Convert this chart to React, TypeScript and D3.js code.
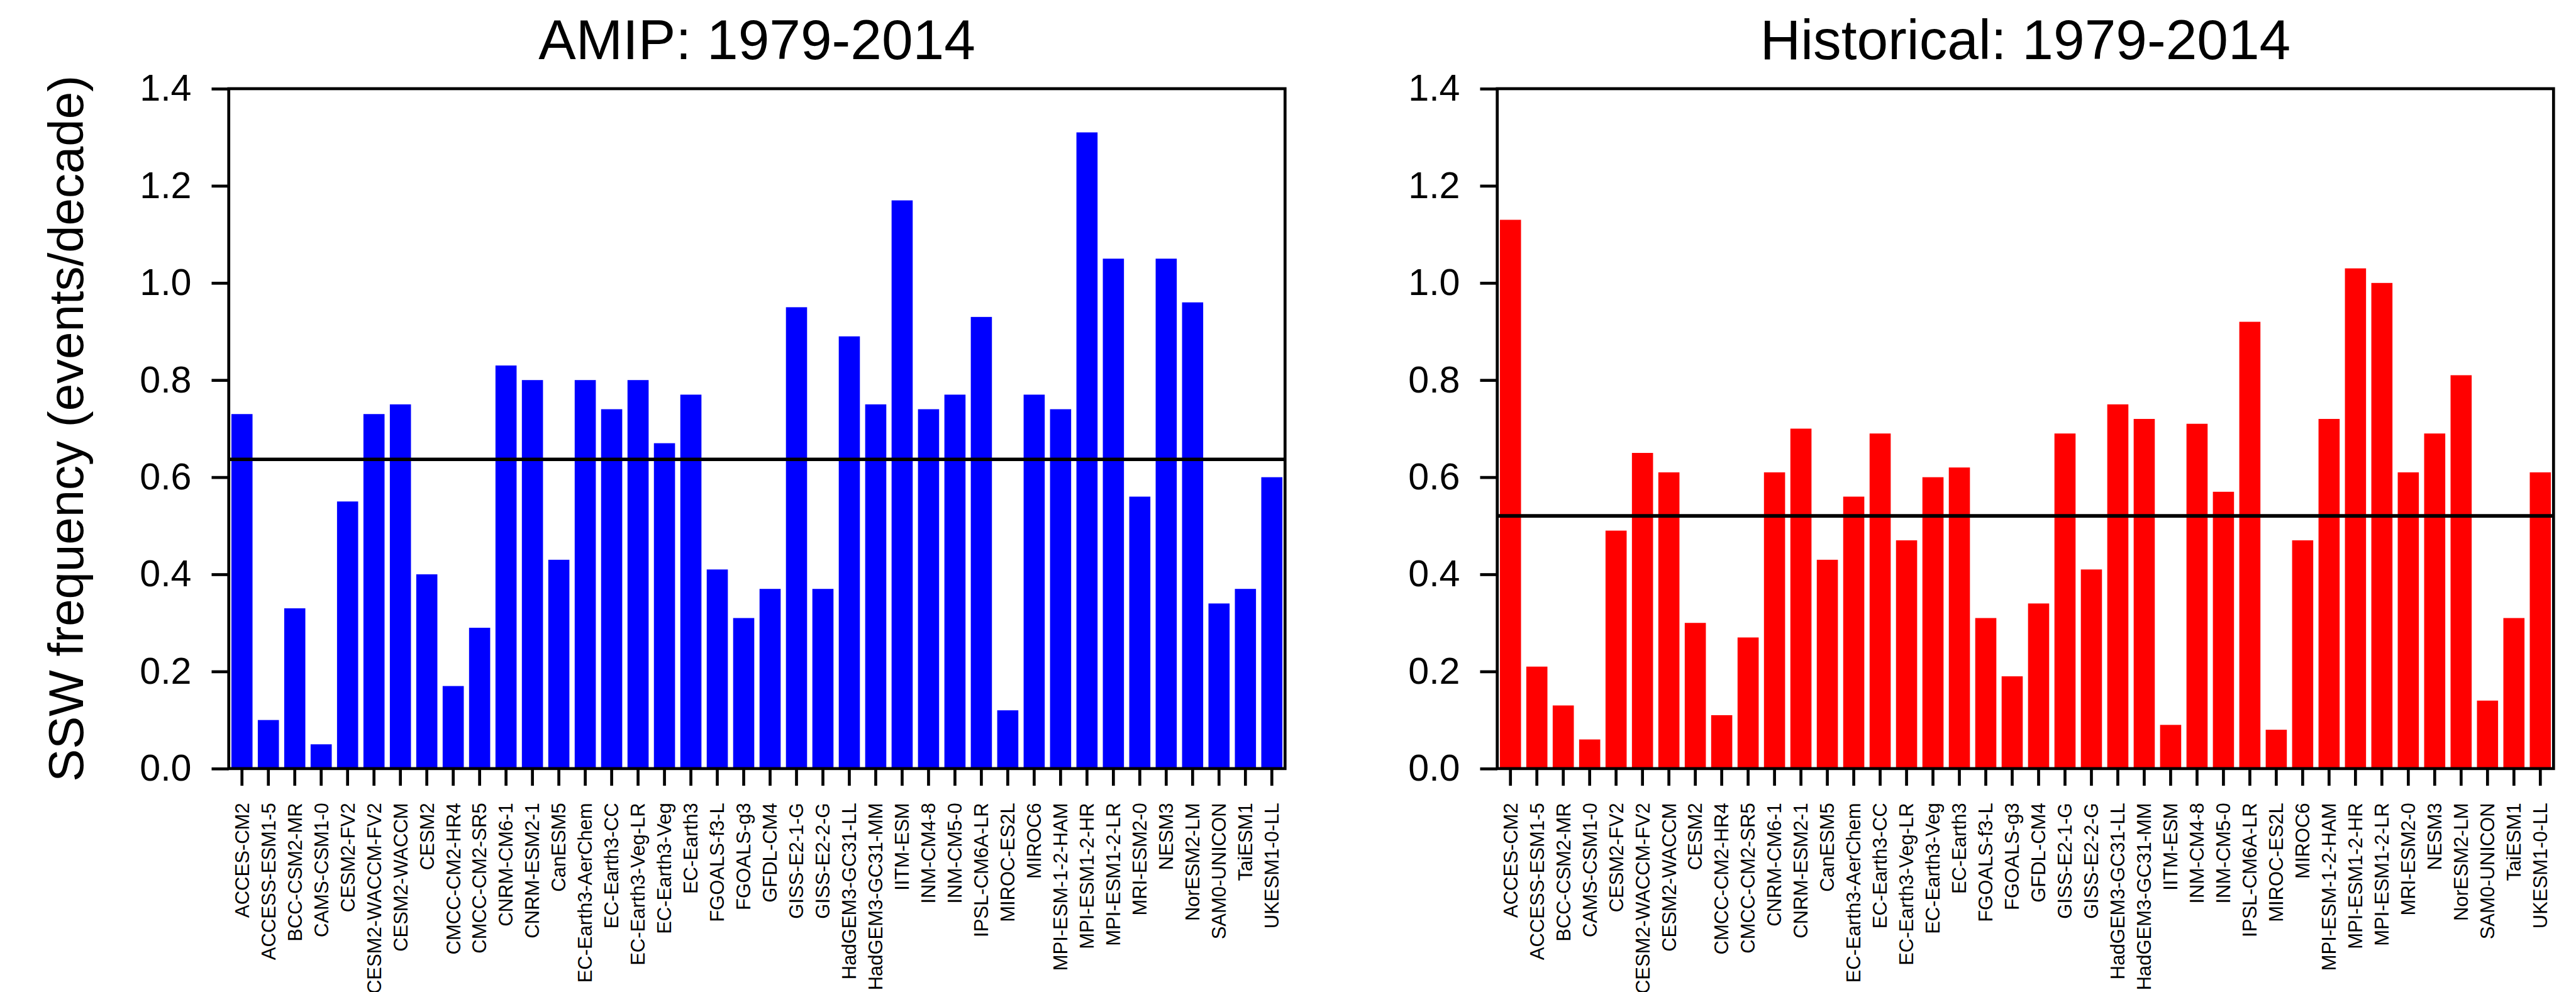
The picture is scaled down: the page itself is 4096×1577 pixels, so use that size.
import React, { useEffect, useRef } from "react";
import * as d3 from "d3";

// models on the x axis (same order in both panels)
const models = [
  "ACCES-CM2", "ACCESS-ESM1-5", "BCC-CSM2-MR", "CAMS-CSM1-0", "CESM2-FV2",
  "CESM2-WACCM-FV2", "CESM2-WACCM", "CESM2", "CMCC-CM2-HR4", "CMCC-CM2-SR5",
  "CNRM-CM6-1", "CNRM-ESM2-1", "CanESM5", "EC-Earth3-AerChem", "EC-Earth3-CC",
  "EC-Earth3-Veg-LR", "EC-Earth3-Veg", "EC-Earth3", "FGOALS-f3-L", "FGOALS-g3",
  "GFDL-CM4", "GISS-E2-1-G", "GISS-E2-2-G", "HadGEM3-GC31-LL", "HadGEM3-GC31-MM",
  "IITM-ESM", "INM-CM4-8", "INM-CM5-0", "IPSL-CM6A-LR", "MIROC-ES2L",
  "MIROC6", "MPI-ESM-1-2-HAM", "MPI-ESM1-2-HR", "MPI-ESM1-2-LR", "MRI-ESM2-0",
  "NESM3", "NorESM2-LM", "SAM0-UNICON", "TaiESM1", "UKESM1-0-LL",
];

const amipValues = [
  0.73, 0.10, 0.33, 0.05, 0.55, 0.73, 0.75, 0.40, 0.17, 0.29,
  0.83, 0.80, 0.43, 0.80, 0.74, 0.80, 0.67, 0.77, 0.41, 0.31,
  0.37, 0.95, 0.37, 0.89, 0.75, 1.17, 0.74, 0.77, 0.93, 0.12,
  0.77, 0.74, 1.31, 1.05, 0.56, 1.05, 0.96, 0.34, 0.37, 0.60,
];

const histValues = [
  1.13, 0.21, 0.13, 0.06, 0.49, 0.65, 0.61, 0.30, 0.11, 0.27,
  0.61, 0.70, 0.43, 0.56, 0.69, 0.47, 0.60, 0.62, 0.31, 0.19,
  0.34, 0.69, 0.41, 0.75, 0.72, 0.09, 0.71, 0.57, 0.92, 0.08,
  0.47, 0.72, 1.03, 1.00, 0.61, 0.69, 0.81, 0.14, 0.31, 0.61,
];

const yTicks = [0, 0.2, 0.4, 0.6, 0.8, 1.0, 1.2, 1.4];

const titles = ["AMIP: 1979-2014", "Historical: 1979-2014"];
const yLabel = "SSW frequency (events/decade)";

const FONT = "'Liberation Sans', Arial, Helvetica, sans-serif";
const S = 4096 / 4358; // reference -> window

export default function App() {
  const ref = useRef<SVGSVGElement>(null);

  useEffect(() => {
    document.body.style.margin = "0";
    const svg = d3.select(ref.current);
    svg.selectAll("*").remove();
    const root = svg.append("g").attr("transform", `scale(${S})`);

    const top = 150;
    const bottom = 1300;
    const pw = 1787;
    const y = d3.scaleLinear().domain([0, 1.4]).range([bottom, top]);

    const panels = [
      { title: titles[0], values: amipValues, color: "#0000ff", left: 387 },
      { title: titles[1], values: histValues, color: "#ff0000", left: 2533 },
    ];

    panels.forEach((p) => {
      const x = d3
        .scaleBand()
        .domain(models)
        .range([p.left, p.left + pw])
        .paddingInner(0.2)
        .paddingOuter(0.1);
      const g = root.append("g");

      g.selectAll("rect.bar")
        .data(p.values)
        .enter()
        .append("rect")
        .attr("class", "bar")
        .attr("x", (d, i) => x(models[i]) as number)
        .attr("y", (d) => y(d))
        .attr("width", x.bandwidth())
        .attr("height", (d) => bottom - y(d))
        .attr("fill", p.color);

      // multi-model mean
      const m = d3.mean(p.values) as number;
      g.append("line")
        .attr("x1", p.left)
        .attr("x2", p.left + pw)
        .attr("y1", y(m))
        .attr("y2", y(m))
        .attr("stroke", "#000")
        .attr("stroke-width", 6);

      // frame
      g.append("rect")
        .attr("x", p.left)
        .attr("y", top)
        .attr("width", pw)
        .attr("height", bottom - top)
        .attr("fill", "none")
        .attr("stroke", "#000")
        .attr("stroke-width", 5);

      const yAxisG = g
        .append("g")
        .attr("transform", `translate(${p.left},0)`)
        .call(
          d3.axisLeft(y).tickValues(yTicks).tickFormat(d3.format(".1f")).tickSize(29).tickPadding(34)
        )
        .attr("font-size", 63)
        .attr("font-family", FONT)
        .attr("color", "#000");
      yAxisG.select(".domain").remove();
      yAxisG.selectAll(".tick line").attr("stroke-width", 5);

      const xAxisG = g
        .append("g")
        .attr("transform", `translate(0,${bottom})`)
        .call(d3.axisBottom(x).tickSize(29).tickPadding(29))
        .attr("font-size", 33)
        .attr("font-family", FONT)
        .attr("color", "#000");
      xAxisG.select(".domain").remove();
      xAxisG.selectAll(".tick line").attr("stroke-width", 5);
      xAxisG
        .selectAll(".tick text")
        .attr("x", 0)
        .attr("y", 0)
        .attr("dy", "0.35em")
        .attr("text-anchor", "end")
        .attr("transform", "translate(0,58) rotate(-90)");

      g.append("text")
        .attr("x", p.left + pw / 2)
        .attr("y", 100)
        .attr("text-anchor", "middle")
        .attr("font-family", FONT)
        .attr("font-size", 95)
        .text(p.title);
    });

    root
      .append("text")
      .attr("transform", "translate(140,725) rotate(-90)")
      .attr("text-anchor", "middle")
      .attr("font-family", FONT)
      .attr("font-size", 83)
      .text(yLabel);
  }, []);

  return (
    <svg
      ref={ref}
      width={4096}
      height={1577}
      style={{ display: "block", background: "#fff" }}
    />
  );
}
